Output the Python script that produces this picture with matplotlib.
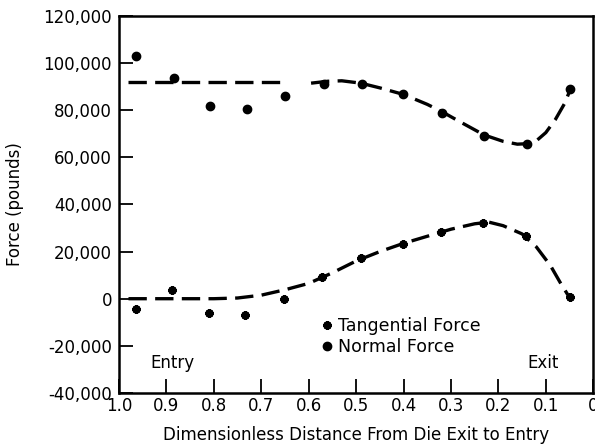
import matplotlib.pyplot as plt

# measured points
tan_x = [0.965, 0.888, 0.811, 0.734, 0.653, 0.572, 0.490, 0.402, 0.321, 0.233, 0.142, 0.050]
tan_y = [-4500, 3700, -6200, -6900, -300, 9300, 17400, 23400, 28200, 32300, 26600, 600]
norm_x = [0.965, 0.885, 0.809, 0.731, 0.651, 0.567, 0.487, 0.402, 0.319, 0.231, 0.140, 0.048]
norm_y = [103000, 93500, 82000, 80600, 86200, 91100, 91000, 86800, 78700, 69000, 65700, 88900]

# fitted curves
norm_entry_x = [0.981, 0.653]
norm_entry_y = [91800, 91800]
norm_fit_x = [0.595, 0.56, 0.53, 0.49, 0.45, 0.40, 0.35, 0.32, 0.28, 0.23,
              0.19, 0.16, 0.14, 0.12, 0.10, 0.08, 0.06, 0.048]
norm_fit_y = [91500, 92300, 92500, 91500, 89500, 86700, 82500, 79500, 75000, 69500,
              66800, 65600, 65800, 67000, 70500, 76000, 83000, 89000]
tan_fit_x = [0.98, 0.90, 0.80, 0.75, 0.70, 0.65, 0.60, 0.55, 0.50, 0.45, 0.40,
             0.35, 0.30, 0.25, 0.22, 0.19, 0.15, 0.12, 0.09, 0.07, 0.05]
tan_fit_y = [0, 0, 0, 300, 1500, 3800, 6500, 11000, 16000, 20000, 23500,
             26500, 29500, 31800, 32500, 31000, 27500, 22000, 14000, 7000, 500]

x_ticks = [1.0, 0.9, 0.8, 0.7, 0.6, 0.5, 0.4, 0.3, 0.2, 0.1, 0.0]
x_ticklabels = ["1.0", "0.9", "0.8", "0.7", "0.6", "0.5", "0.4", "0.3", "0.2", "0.1", "0"]
y_ticks = [-40000, -20000, 0, 20000, 40000, 60000, 80000, 100000, 120000]

plt.rcParams["font.family"] = "DejaVu Sans"

fig = plt.figure(figsize=(5.95, 4.45), dpi=100)
ax = fig.add_axes([0.200, 0.117, 0.797, 0.847])

dash = dict(color="black", lw=2.4, ls=(0, (5.5, 2.5)), dash_capstyle="butt")
ax.plot(norm_entry_x, norm_entry_y, **dash)
ax.plot(norm_fit_x, norm_fit_y, **dash)
ax.plot(tan_fit_x, tan_fit_y, **dash)

ax.plot(tan_x, tan_y, ls="none", marker=(8, 2, 0), ms=6, mew=1.8, color="black",
        label="Tangential Force")
ax.plot(norm_x, norm_y, ls="none", marker="o", ms=6, color="black",
        label="Normal Force")

ax.set_xlim(1.0, 0.0)
ax.set_ylim(-40000, 120000)
ax.set_xticks(x_ticks)
ax.set_xticklabels(x_ticklabels)
ax.set_yticks(y_ticks)
ax.set_yticklabels([f"{v:,}" for v in y_ticks])
ax.tick_params(direction="in", length=10, width=1.3, labelsize=12, pad=5)
ax.tick_params(axis="x", pad=3)
for s in ax.spines.values():
    s.set_linewidth(1.8)

ax.set_ylabel("Force (pounds)", fontsize=12, labelpad=14)
ax.set_xlabel("Dimensionless Distance From Die Exit to Entry", fontsize=12, labelpad=8)

ax.text(0.934, -27300, "Entry", fontsize=12, ha="left", va="center")
ax.text(0.072, -27300, "Exit", fontsize=12, ha="right", va="center")

ax.legend(loc="upper left", bbox_to_anchor=(0.41, 0.225), frameon=False,
          fontsize=12.5, handlelength=0.6, handletextpad=0.3, labelspacing=0.2,
          borderpad=0)

fig.savefig("out.png", dpi=100)
